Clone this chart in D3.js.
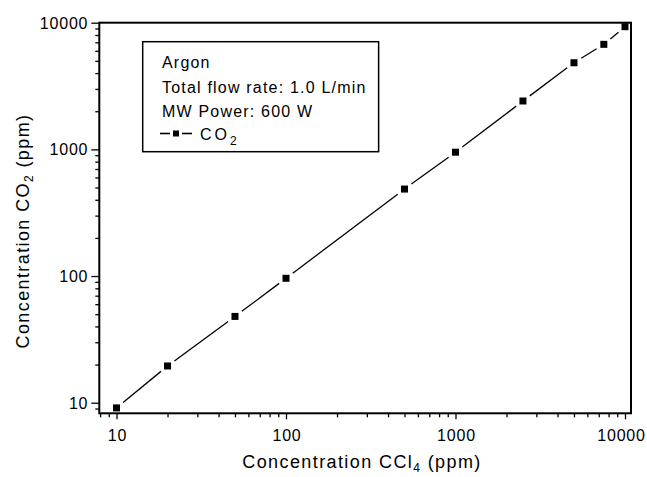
<!DOCTYPE html>
<html>
<head>
<meta charset="utf-8">
<script src="https://cdn.jsdelivr.net/npm/d3@7"></script>
<style>
  html, body { margin: 0; padding: 0; background: #fff; }
  svg { display: block; font-family: "Liberation Sans", Arial, sans-serif; }
</style>
</head>
<body>
<svg id="chart" width="647" height="477"></svg>
<script>
// ---- data ----
const ccl4 = [10, 20, 50, 100, 500, 1000, 2500, 5000, 7500, 10000];
const co2 = [9.1, 19.5, 48, 96, 486, 950, 2410, 4830, 6750, 9300];
const xMajorTicks = [10, 100, 1000, 10000];
const yMajorTicks = [10, 100, 1000, 10000];
const legendLines = ["Argon", "Total flow rate: 1.0 L/min", "MW Power: 600 W"];
const seriesName = "CO";
const seriesSub = "2";

// ---- layout ----
const L = 99.3, R = 631, T = 22.7, B = 413.3;
const svg = d3.select("#chart");
svg.append("rect").attr("width", 647).attr("height", 477).attr("fill", "#fff");

const x = d3.scaleLog().domain([7.915, 10850]).range([L, R]);
const y = d3.scaleLog().domain([8.25, 10000]).range([B, T]);

function minors(domain) {
  const out = [];
  for (let d = 1; d <= 10000; d *= 10) {
    for (let k = 2; k <= 9; k++) {
      const v = d * k;
      if (v >= domain[0] && v <= domain[1]) out.push(v);
    }
  }
  return out;
}

const fontTick = 16;
const ff = '"Liberation Sans", Arial, sans-serif';

// x axis
const gxMinor = svg.append("g").attr("transform", `translate(0,${B})`)
  .call(d3.axisBottom(x).tickValues(minors(x.domain())).tickSize(4).tickFormat(""));
const gx = svg.append("g").attr("transform", `translate(0,${B})`)
  .call(d3.axisBottom(x).tickValues(xMajorTicks).tickSize(6).tickPadding(10).tickFormat(d3.format("d")));
// y axis
const gyMinor = svg.append("g").attr("transform", `translate(${L},0)`)
  .call(d3.axisLeft(y).tickValues(minors(y.domain())).tickSize(4).tickFormat(""));
const gy = svg.append("g").attr("transform", `translate(${L},0)`)
  .call(d3.axisLeft(y).tickValues(yMajorTicks).tickSize(8).tickPadding(3).tickFormat(d3.format("d")));

[gx, gy, gxMinor, gyMinor].forEach(g => {
  g.select(".domain").remove();
  g.selectAll("line").attr("stroke", "#000").attr("stroke-width", 1.3);
  g.selectAll("text").attr("fill", "#000").style("font-size", fontTick + "px")
    .style("font-family", ff).style("letter-spacing", "0.8px");
});
gy.selectAll("text").attr("dy", "0.35em");
gx.selectAll("text").attr("dx", d => d === 10000 ? "-4px" : "0.5px");

// frame
svg.append("rect").attr("x", L).attr("y", T).attr("width", R - L).attr("height", B - T)
  .attr("fill", "none").attr("stroke", "#000").attr("stroke-width", 2);

// data line with gaps around markers
const pts = ccl4.map((v, i) => [x(v), y(co2[i])]);
const gap = 8.5;
const segs = [];
for (let i = 0; i < pts.length - 1; i++) {
  const [x1, y1] = pts[i], [x2, y2] = pts[i + 1];
  const dx = x2 - x1, dy = y2 - y1, len = Math.hypot(dx, dy);
  if (len > 2 * gap) {
    segs.push([x1 + dx / len * gap, y1 + dy / len * gap, x2 - dx / len * gap, y2 - dy / len * gap]);
  }
}
svg.append("g").selectAll("line").data(segs).join("line")
  .attr("x1", d => d[0]).attr("y1", d => d[1]).attr("x2", d => d[2]).attr("y2", d => d[3])
  .attr("stroke", "#000").attr("stroke-width", 1.3);

const ms = 7;
svg.append("g").selectAll("rect").data(pts).join("rect")
  .attr("x", d => d[0] - ms / 2).attr("y", d => d[1] - ms / 2)
  .attr("width", ms).attr("height", ms).attr("fill", "#000");

// axis titles
const titleFont = "18px", titleSpacing = "1.4px";
const xt = svg.append("text").attr("x", 362).attr("y", 468)
  .attr("text-anchor", "middle").style("font-size", titleFont).style("letter-spacing", titleSpacing).attr("fill", "#000");
xt.append("tspan").text("Concentration CCl");
xt.append("tspan").text("4").style("font-size", "12px").attr("dy", 4);
xt.append("tspan").text(" (ppm)").attr("dy", -4);

const yt = svg.append("text").attr("transform", `translate(29,231) rotate(-90)`)
  .attr("text-anchor", "middle").style("font-size", titleFont).style("letter-spacing", titleSpacing).attr("fill", "#000");
yt.append("tspan").text("Concentration CO");
yt.append("tspan").text("2").style("font-size", "12px").attr("dy", 4);
yt.append("tspan").text(" (ppm)").attr("dy", -4);

// legend
const lg = svg.append("g");
const lx = 162, baselines = [68, 93, 117, 140];
const lfont = 16;
legendLines.forEach((t, i) => {
  lg.append("text").attr("x", lx).attr("y", baselines[i]).text(t)
    .style("font-size", lfont + "px").style("letter-spacing", "1.2px").attr("fill", "#000");
});
const sy = 133.5;
lg.append("line").attr("x1", 160).attr("x2", 170).attr("y1", sy).attr("y2", sy).attr("stroke", "#000").attr("stroke-width", 1.6);
lg.append("line").attr("x1", 182).attr("x2", 192).attr("y1", sy).attr("y2", sy).attr("stroke", "#000").attr("stroke-width", 1.6);
lg.append("rect").attr("x", 176 - 3).attr("y", sy - 3).attr("width", 6).attr("height", 6).attr("fill", "#000");
const st = lg.append("text").attr("x", 200).attr("y", baselines[3])
  .style("font-size", lfont + "px").style("letter-spacing", "3px").attr("fill", "#000");
st.append("tspan").text(seriesName);
st.append("tspan").text(seriesSub).attr("dy", 5).style("font-size", "12px").style("letter-spacing", "0px");

// legend box fitted to text
let maxW = 0;
lg.selectAll("text").each(function () { maxW = Math.max(maxW, this.getComputedTextLength()); });
const boxRight = lx + maxW + 12;
lg.insert("rect", ":first-child").attr("x", 142.7).attr("y", 41.7)
  .attr("width", boxRight - 142.7).attr("height", 151.7 - 41.7)
  .attr("fill", "none").attr("stroke", "#000").attr("stroke-width", 1.5);
</script>
</body>
</html>
